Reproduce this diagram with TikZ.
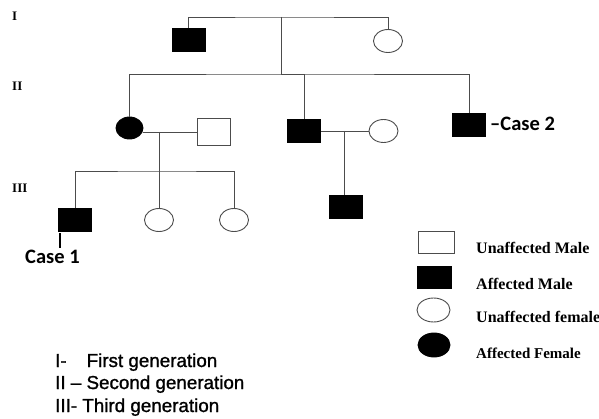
\documentclass[tikz,border=0pt]{standalone}
\usepackage{fontspec}
\newfontfamily\arialfont[FakeBold=1.2]{Liberation Sans}
\newfontfamily\timesfont{Liberation Serif}
\newfontfamily\calfont{Carlito}
\usepackage{tikz}
\usetikzlibrary{calc,positioning,shapes}

\begin{document}
\begin{tikzpicture}[x=1pt,y=-1pt,
		line/.style={draw=black!70,line width=0.9pt},
		male/.style={shape=rectangle,draw=black!70,line width=0.9pt,inner sep=0pt,minimum width=33pt,minimum height=23pt},
		female/.style={shape=ellipse,draw=black!70,line width=0.9pt,inner sep=0pt,minimum width=29pt,minimum height=23pt},
		hit/.style={fill=black,draw=black},
		roman/.style={anchor=base west,inner sep=0pt,font=\timesfont\bfseries\fontsize{13pt}{15pt}\selectfont},
		case/.style={anchor=base west,inner sep=0pt,font=\calfont\bfseries\fontsize{20.5pt}{24pt}\selectfont},
		key/.style={anchor=base west,inner sep=0pt,font=\timesfont\bfseries\fontsize{16pt}{18pt}\selectfont},
		gen/.style={anchor=base west,inner sep=0pt,font=\arialfont\fontsize{18.8pt}{22pt}\selectfont}]
	\useasboundingbox (0,0) rectangle (599,419);
	\begin{scope}
		% generation I
		\node(m1) [male,hit] at (188.5,39.5) {};
		\node(f1) [female] at (388,41) {};
		\coordinate (u1) at (281,17);
		\coordinate (s2) at (281,74);
		\draw[line] (m1.north) |- (u1) -| (f1.north);
		\draw[line] (u1) -- (s2);

		% generation II
		\node(a2) [female,hit,minimum width=27pt,minimum height=22pt] at (129.5,128) {};
		\node(h2) [male,minimum height=27pt] at (213.5,132) {};
		\node(b2) [male,hit] at (304,131) {};
		\node(w2) [female] at (383.5,131) {};
		\node(c2) [male,hit] at (469,124.5) {};
		\draw[line] (a2.north) |- (s2) -| (c2.north);
		\draw[line] (s2) -| (b2.north);
		\draw[line] (h2.west) -- (h2.west -| a2.east);
		\draw[line] (b2) -- (w2);
		\coordinate (u2) at (159,132);
		\coordinate (s3) at (159,171);
		\coordinate (u3) at (344,131);

		% generation III
		\node(e3) [male,hit] at (75,219.5) {};
		\node(g3) [female] at (159,220) {};
		\node(k3) [female] at (234,220) {};
		\node(d3) [male,hit] at (346,207) {};
		\draw[line] (u2) -- (s3);
		\draw[line] (e3.north) |- (s3) -| (k3.north);
		\draw[line] (s3) -- (g3.north);
		\draw[line] (u3) -- (u3 |- d3.north);

		% probands
		\node(case1) [case] at (25,264) {Case 1};
		\draw[line width=2pt] ([xshift=-15pt,yshift=-2pt]e3.south) -- ([xshift=-15pt,yshift=-17pt]e3.south);
		\node(case2) [case] at (490,131) {\textendash Case 2};

		% generation numbers
		\node(r1) [roman] at (12,21) {I};
		\node(r2) [roman] at (12,91) {II};
		\node(r3) [roman] at (12,193) {III};
	\end{scope}

	% key
	\node(k1) [male,minimum width=36pt,minimum height=22pt] at (436,242) {};
	\node(k2) [male,hit,minimum width=34pt,minimum height=22pt] at (434,277) {};
	\node(k3) [female,minimum width=33pt,minimum height=24pt] at (433.5,310) {};
	\node(k4) [female,hit,minimum width=32pt,minimum height=24pt] at (434,345) {};
	\node(t1) [key] at (476,254) {Unaffected Male};
	\node(t2) [key] at (476,290) {Affected Male};
	\node(t3) [key] at (476,322) {Unaffected female};
	\node(t4) [key,font=\timesfont\bfseries\fontsize{15pt}{18pt}\selectfont] at (476,358) {Affected Female};

	\node(g1) [gen] at (55,367) {I-\hspace{20pt}First generation};
	\node(g2) [gen] at (55,389) {II \textendash{} Second generation};
	\node(g3) [gen] at (55,412) {III- Third generation};
\end{tikzpicture}
\end{document}
